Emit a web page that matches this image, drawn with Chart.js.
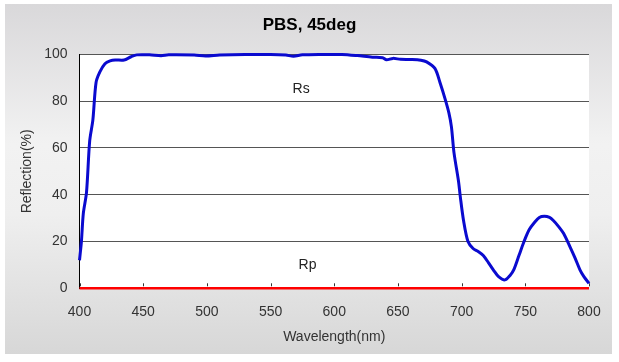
<!DOCTYPE html>
<html lang="en">
<head>
  <meta charset="UTF-8">
  <title>PBS, 45deg</title>
  <script src="https://cdn.jsdelivr.net/npm/chart.js"></script>
  <style>
    body { margin: 0; background: #fff; }
    #wrap { width: 619px; height: 362px; position: relative; }
  </style>
</head>
<body>
  <div id="wrap"><canvas id="pbsChart"></canvas></div>

  <script>
    // Rs curve (wavelength nm / reflection %)
    const rsWavelength = [400, 401.5, 403, 405.5, 408, 410.5, 413, 416, 420, 424, 428, 435, 440.5, 445,
      455, 464, 470, 490, 499, 510, 530, 550, 562, 568, 575, 590, 606, 618, 630, 638, 641, 646,
      652, 660, 668, 672.5, 679, 683, 687, 690, 692, 694, 697.5, 699, 701.5, 705, 709, 713, 717,
      721, 725, 729, 734, 738, 741, 745, 749, 753, 757, 761, 765, 769, 772, 776, 780, 785, 789,
      793, 796, 800];
    const rsValues = [12, 20, 32, 41, 63, 72, 88, 92.5, 96, 97.2, 97.6, 97.6, 99, 99.8,
      99.8, 99.4, 99.8, 99.7, 99.3, 99.7, 100, 100, 99.7, 99.2, 99.8, 100, 100, 99.5, 98.8, 98.6, 97.7, 98.3,
      97.9, 97.8, 97.5, 96.8, 94, 88, 81, 75, 69, 58, 46, 39, 29, 20, 17, 15.7, 14,
      11, 7.8, 5, 3.6, 5.5, 8, 14, 20, 25, 28, 30.3, 30.8, 30.3, 29, 26.5, 23.5, 17.8, 13,
      7.8, 5, 2.1];

    // Rp curve, flat on the zero line
    const rpWavelength = [400, 500, 600, 700, 800];
    const rpValues = [0, 0, 0, 0, 0];

    const xTicks = [400, 450, 500, 550, 600, 650, 700, 750, 800];
    const yTicks = [0, 20, 40, 60, 80, 100];

    // curve labels inside the plot
    const curveLabels = [
      { text: 'Rs', x: 574, y: 85 },
      { text: 'Rp', x: 579, y: 10 }
    ];

    const toPoints = (xs, ys) => xs.map((x, i) => ({ x: x, y: ys[i] }));

    // grey panel behind the chart, white plot area
    const panelPlugin = {
      id: 'panel',
      beforeDraw(chart) {
        const { ctx, chartArea: a } = chart;
        ctx.save();
        const g = ctx.createLinearGradient(0, 4, 0, 354);
        g.addColorStop(0, '#d9d8da');
        g.addColorStop(0.4, '#f2f2f2');
        g.addColorStop(0.6, '#efefef');
        g.addColorStop(1, '#d7d7d7');
        ctx.fillStyle = g;
        ctx.fillRect(5, 4, 607, 350);
        ctx.fillStyle = '#fff';
        ctx.fillRect(a.left, a.top, a.right - a.left, a.bottom - a.top);
        ctx.restore();
      },
      afterDatasetsDraw(chart) {
        const { ctx, scales: { x, y } } = chart;
        ctx.save();
        // small tick marks pointing up from the zero line
        ctx.strokeStyle = '#333';
        ctx.lineWidth = 1;
        xTicks.forEach(v => {
          const px = Math.round(x.getPixelForValue(v)) + 0.5;
          const py = y.getPixelForValue(0);
          ctx.beginPath();
          ctx.moveTo(px, py - 2);
          ctx.lineTo(px, py - 5);
          ctx.stroke();
        });
        ctx.fillStyle = '#222';
        ctx.font = '14px "Liberation Sans", Arial, sans-serif';
        ctx.textAlign = 'center';
        ctx.textBaseline = 'middle';
        curveLabels.forEach(l => {
          ctx.fillText(l.text, x.getPixelForValue(l.x), y.getPixelForValue(l.y));
        });
        ctx.restore();
      }
    };

    const font = { family: '"Liberation Sans", Arial, sans-serif', size: 14 };

    new Chart(document.getElementById('pbsChart'), {
      type: 'line',
      data: {
        datasets: [{
          label: 'Rs',
          data: toPoints(rsWavelength, rsValues),
          borderColor: '#0a0acf',
          borderWidth: 3,
          pointRadius: 0,
          tension: 0.3,
          clip: 4,
          fill: false
        }, {
          label: 'Rp',
          data: toPoints(rpWavelength, rpValues),
          borderColor: '#ff0000',
          borderWidth: 2.5,
          pointRadius: 0,
          clip: 4,
          fill: false
        }]
      },
      options: {
        responsive: true,
        maintainAspectRatio: false,
        animation: false,
        layout: { padding: 0 },
        plugins: {
          legend: { display: false },
          tooltip: { enabled: false },
          title: {
            display: true,
            text: 'PBS, 45deg',
            color: '#000',
            font: { family: font.family, size: 17, weight: 'bold' },
            padding: { top: 15, bottom: 19 }
          }
        },
        scales: {
          x: {
            type: 'linear',
            min: 400,
            max: 800,
            afterBuildTicks: s => { s.ticks = xTicks.map(v => ({ value: v })); },
            afterFit: s => { s.height = 73.7; },
            grid: { display: false, drawTicks: false },
            border: { display: false },
            ticks: { color: '#333', font: font, padding: 15 },
            title: {
              display: true,
              text: 'Wavelength(nm)',
              color: '#333',
              font: font,
              padding: { top: 8, bottom: 16 }
            }
          },
          y: {
            min: 0,
            max: 100,
            afterBuildTicks: s => { s.ticks = yTicks.map(v => ({ value: v })); },
            afterFit: s => { s.width = 79.5; },
            grid: { color: '#555', drawTicks: false },
            border: { display: true, color: '#000', width: 1 },
            ticks: { color: '#333', font: font, padding: 12 },
            title: {
              display: true,
              text: 'Reflection(%)',
              color: '#333',
              font: font,
              padding: { top: 19, bottom: 0 }
            }
          },
          // empty strip on the right so the plot ends where the reference does
          yRight: {
            position: 'right',
            min: 0,
            max: 100,
            afterFit: s => { s.width = 30; },
            grid: { display: false, drawTicks: false },
            border: { display: false },
            ticks: { display: false }
          }
        }
      },
      plugins: [panelPlugin]
    });
  </script>
</body>
</html>
